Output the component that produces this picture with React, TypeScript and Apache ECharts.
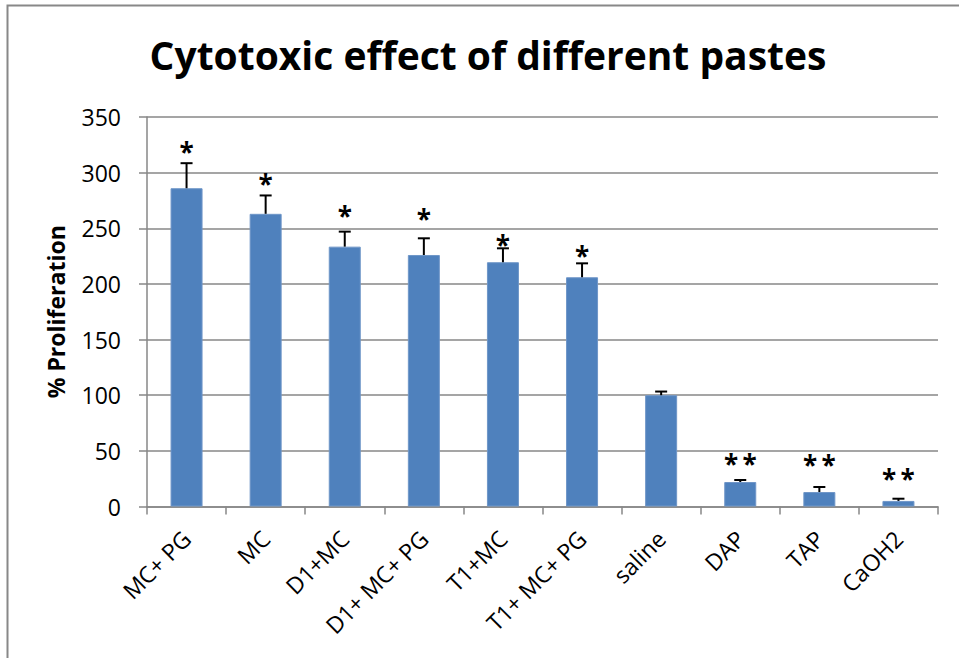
import React, { useEffect, useRef } from "react";
import * as echarts from "echarts";

const categories = ["MC+ PG", "MC", "D1+MC", "D1+ MC+ PG", "T1+MC", "T1+ MC+ PG", "saline", "DAP", "TAP", "CaOH2"];
const proliferation = [286, 263, 233.5, 226, 219.5, 206, 100, 22, 13, 5];
const errors = [22.5, 16.5, 13.5, 15, 12.5, 12.5, 3.3, 1.8, 4.5, 2];
const marks = ["*", "*", "*", "*", "*", "*", "", "**", "**", "**"];
const markLevels = [323.7, 295.6, 266.8, 264.1, 240.7, 230.8, 0, 43.9, 42.7, 30.1];
const yTicks = [0, 50, 100, 150, 200, 250, 300, 350];

const FONT = "'Open Sans', 'Liberation Sans', sans-serif";
const GRID_COLOR = "#878787";

export default function App() {
  const ref = useRef<HTMLDivElement>(null);
  useEffect(() => {
    document.body.style.margin = "0";
    const chart = echarts.init(ref.current!, undefined, { renderer: "svg" });
    chart.setOption({
      animation: false,
      backgroundColor: "#ffffff",
      graphic: [
        {
          type: "rect",
          shape: { x: 7.5, y: 5.5, width: 1000, height: 700 },
          style: { fill: "none", stroke: "#888888", lineWidth: 2 },
          silent: true,
        },
        {
          type: "text",
          x: 488,
          y: 54,
          style: {
            text: "Cytotoxic effect of different pastes",
            font: `bold 39px ${FONT}`,
            fill: "#000",
            textAlign: "center",
            textVerticalAlign: "middle",
          },
        },
      ],
      grid: { left: 147, right: 21, top: 117, bottom: 151.5, containLabel: false },
      xAxis: {
        type: "category",
        data: categories,
        axisLine: { lineStyle: { color: GRID_COLOR, width: 1.5 } },
        axisTick: { show: true, length: 8, lineStyle: { color: GRID_COLOR, width: 1.5 } },
        axisLabel: {
          rotate: 45,
          margin: 28,
          color: "#000",
          fontSize: 23,
          fontFamily: FONT,
          interval: 0,
        },
      },
      yAxis: {
        type: "value",
        min: 0,
        max: yTicks[yTicks.length - 1],
        interval: 50,
        name: "% Proliferation",
        nameLocation: "middle",
        nameRotate: 90,
        nameGap: 80,
        nameTextStyle: { fontSize: 23, fontWeight: "bold", fontFamily: FONT, color: "#000" },
        axisLine: { show: true, lineStyle: { color: GRID_COLOR, width: 1.5 } },
        axisTick: { show: true, length: 8, lineStyle: { color: GRID_COLOR, width: 1.5 } },
        axisLabel: { margin: 26, color: "#000", fontSize: 23, fontFamily: FONT },
        splitLine: { show: true, lineStyle: { color: GRID_COLOR, width: 1.5 } },
      },
      series: [
        {
          type: "bar",
          data: proliferation,
          barWidth: 32,
          itemStyle: { color: "#4F81BD", borderColor: "#6F96C8", borderWidth: 1 },
          z: 2,
        },
        {
          type: "custom",
          data: proliferation.map((v, i) => [i, v, errors[i]]),
          z: 3,
          renderItem: (params: any, api: any) => {
            const i = api.value(0);
            const v = api.value(1);
            const e = api.value(2);
            const base = api.coord([i, v]);
            const top = api.coord([i, v + e]);
            const half = 6;
            return {
              type: "group",
              children: [
                {
                  type: "line",
                  shape: { x1: base[0], y1: base[1], x2: top[0], y2: top[1] },
                  style: { stroke: "#000", lineWidth: 2 },
                },
                {
                  type: "line",
                  shape: { x1: top[0] - half, y1: top[1], x2: top[0] + half, y2: top[1] },
                  style: { stroke: "#000", lineWidth: 2 },
                },
              ],
            };
          },
        },
        {
          type: "custom",
          data: markLevels.map((v, i) => [i, v]),
          z: 4,
          renderItem: (params: any, api: any) => {
            const i = api.value(0);
            const txt = marks[params.dataIndex];
            if (!txt) return null;
            const p = api.coord([i, api.value(1)]);
            return {
              type: "text",
              x: p[0],
              y: p[1] + 6,
              style: {
                text: txt.split("").join("\u2009"),
                font: `bold 26px ${FONT}`,
                fill: "#000",
                textAlign: "center",
                textVerticalAlign: "middle",
              },
            };
          },
        },
      ],
    });
    return () => chart.dispose();
  }, []);
  return <div ref={ref} style={{ width: 959, height: 658 }} />;
}
